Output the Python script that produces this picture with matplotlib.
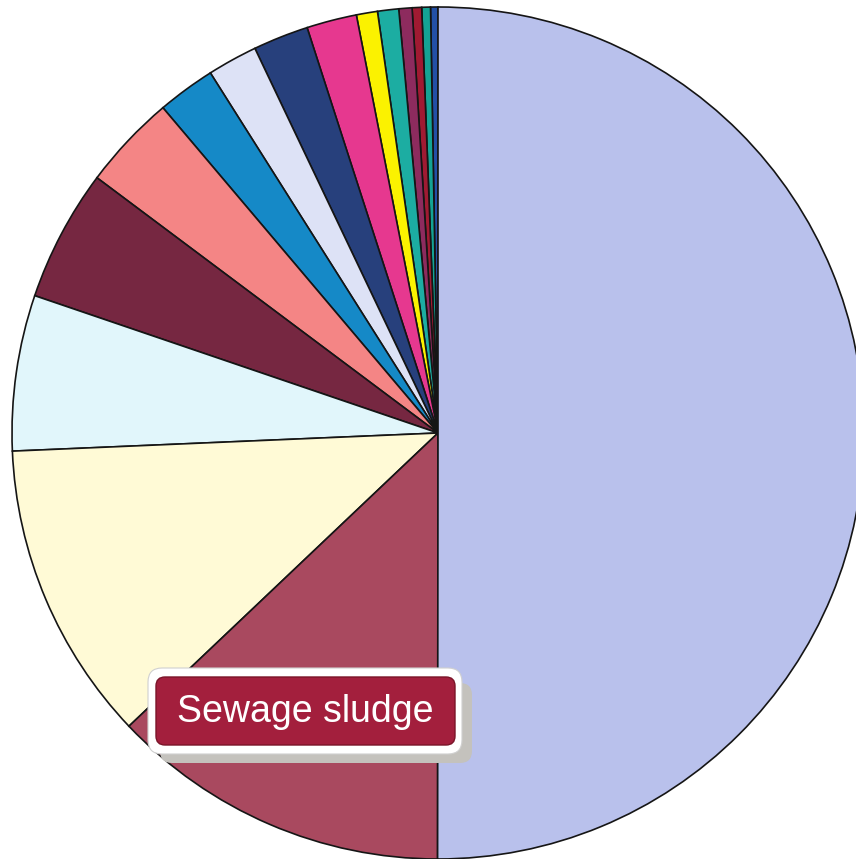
import matplotlib
matplotlib.use("Agg")
import matplotlib.pyplot as plt
from matplotlib.patches import FancyBboxPatch

# slice shares in percent, counter-clockwise from 12 o'clock
sources = ["s16", "s15", "s14", "s13", "s12", "s11", "s10", "s9", "s8",
           "s7", "s6", "s5", "s4", "s3", "Sewage sludge", "s1"]
shares = [0.28, 0.33, 0.36, 0.5, 0.8, 0.8, 1.9, 2.1, 1.9,
          2.2, 3.6, 5.0, 5.9, 11.4, 12.9, 50.0]
colours = ["#2350a6", "#14a394", "#a01a32", "#8d2b5e", "#1cada2", "#fbf200",
           "#e6388f", "#27407c", "#dde2f6", "#1589c7", "#f48585", "#762741",
           "#e1f6fb", "#fffad6", "#a9495f", "#b9c1ec"]
label = "Sewage sludge"

W, H = 856, 859
fig = plt.figure(figsize=(W / 100, H / 100), dpi=100)
ax = fig.add_axes([0, 0, 1, 1])

# work in pixel units (y up)
cx, cy, r = 438, H - 433, 426
ax.pie(shares, colors=colours, startangle=90, counterclock=True,
       radius=r, center=(cx, cy),
       wedgeprops=dict(edgecolor="#151515", linewidth=1.2))
ax.set_xlim(0, W)
ax.set_ylim(0, H)
ax.set_aspect("equal")
ax.axis("off")

# label box: shadow, white frame, crimson plate
shadow = FancyBboxPatch((160, H - 763), 312, 80,
                        boxstyle="round,pad=0,rounding_size=12",
                        facecolor="#c4c2bd", edgecolor="none", zorder=5)
frame = FancyBboxPatch((148, H - 754), 314, 86,
                       boxstyle="round,pad=0,rounding_size=14",
                       facecolor="white", edgecolor="#d0d0d0", linewidth=0.8, zorder=6)
plate = FancyBboxPatch((156, H - 745), 299, 68,
                       boxstyle="round,pad=0,rounding_size=9",
                       facecolor="#a31f3d", edgecolor="#7a1428", linewidth=1.0, zorder=7)
for p in (shadow, frame, plate):
    ax.add_patch(p)
ax.text(305, H - 712, label, color="white", fontsize=27,
        family="Liberation Sans", ha="center", va="center", zorder=8)

fig.savefig("out.png", dpi=100, facecolor="white")
